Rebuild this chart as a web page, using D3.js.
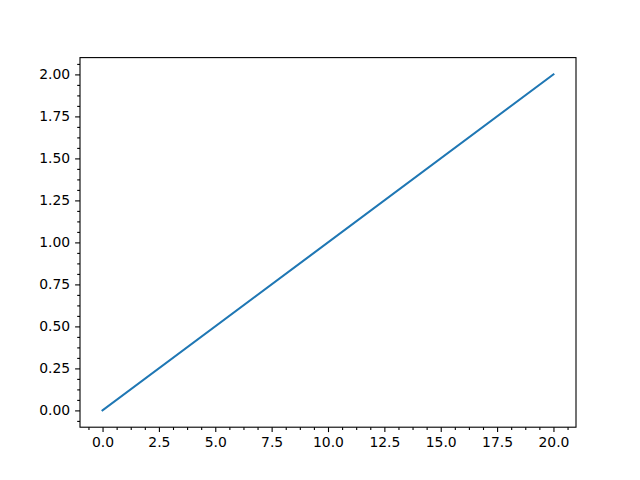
<!DOCTYPE html>
<html>
<head>
<meta charset="utf-8">
<script src="https://cdn.jsdelivr.net/npm/d3@7"></script>
<style>
  body { margin: 0; background: #fff; }
  svg text { font-family: "DejaVu Sans", sans-serif; font-size: 13.9px; fill: #000; }
</style>
</head>
<body>
<svg id="chart" width="640" height="480"></svg>
<script>
// data: straight line from (0,0) to (20,2)
var xValues = [0, 20];
var yValues = [0, 2];
var xTicks = [0, 2.5, 5, 7.5, 10, 12.5, 15, 17.5, 20];
var yTicks = [0, 0.25, 0.5, 0.75, 1, 1.25, 1.5, 1.75, 2];

var plotLeft = 80, plotRight = 576, plotTop = 57.6, plotBottom = 427.2;

var x = d3.scaleLinear().domain([-1, 21]).range([plotLeft, plotRight]);
var y = d3.scaleLinear().domain([-0.1, 2.1]).range([plotBottom, plotTop]);

// minor ticks: 4 divisions per major step
var xMinor = d3.range(Math.ceil(-1 / 0.625), Math.floor(21 / 0.625) + 1).map((k) => k * 0.625)
  .filter((d) => xTicks.indexOf(d) < 0);
var yMinor = d3.range(Math.ceil(-0.1 / 0.0625), Math.floor(2.1 / 0.0625) + 1).map((k) => k * 0.0625)
  .filter((d) => yTicks.indexOf(d) < 0);

const svg = d3.select('#chart');

svg.append('g')
  .attr('transform', 'translate(0,' + plotBottom + ')')
  .call(d3.axisBottom(x).tickValues(xMinor).tickSize(2.8).tickFormat(''))
  .call((g) => g.select('.domain').remove());

svg.append('g')
  .attr('transform', 'translate(' + plotLeft + ',0)')
  .call(d3.axisLeft(y).tickValues(yMinor).tickSize(2.8).tickFormat(''))
  .call((g) => g.select('.domain').remove());

svg.append('g')
  .attr('transform', 'translate(0,' + plotBottom + ')')
  .call(d3.axisBottom(x).tickValues(xTicks).tickSize(4.9).tickPadding(4.9).tickFormat(d3.format('.1f')))
  .call((g) => g.select('.domain').remove());

svg.append('g')
  .attr('transform', 'translate(' + plotLeft + ',0)')
  .call(d3.axisLeft(y).tickValues(yTicks).tickSize(4.9).tickPadding(4.9).tickFormat(d3.format('.2f')))
  .call((g) => g.select('.domain').remove());

svg.selectAll('.tick line').attr('stroke', '#000').attr('stroke-width', 1.1);
svg.selectAll('.tick text')
  .attr('font-family', 'DejaVu Sans')
  .style('font-size', '13.9px');

svg.append('path')
  .datum(d3.zip(xValues, yValues))
  .attr('d', d3.line().x((d) => x(d[0])).y((d) => y(d[1])))
  .attr('fill', 'none')
  .attr('stroke', '#1f77b4')
  .attr('stroke-width', 2.08)
  .attr('stroke-linecap', 'square');

svg.append('rect')
  .attr('x', plotLeft)
  .attr('y', plotTop)
  .attr('width', plotRight - plotLeft)
  .attr('height', plotBottom - plotTop)
  .attr('fill', 'none')
  .attr('stroke', '#000')
  .attr('stroke-width', 1.1);
</script>
</body>
</html>
